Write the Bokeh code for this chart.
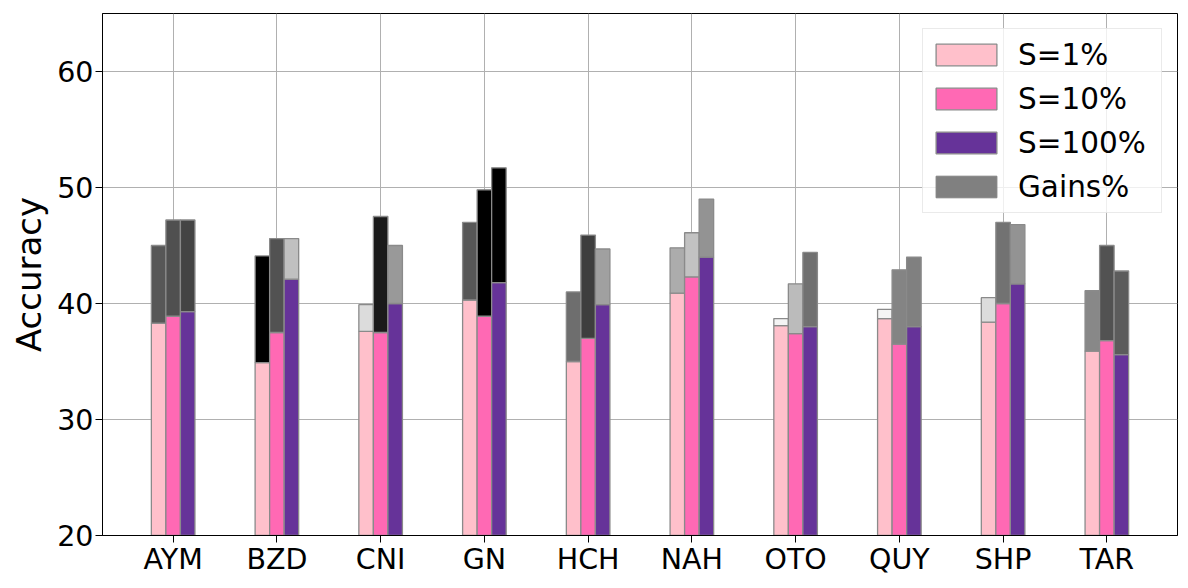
import numpy as np
from bokeh.plotting import figure
from bokeh.models import ColumnDataSource, FixedTicker, Legend, LegendItem, Range1d
from bokeh.embed import file_html
from bokeh.resources import INLINE

languages = ["AYM", "BZD", "CNI", "GN", "HCH", "NAH", "OTO", "QUY", "SHP", "TAR"]
series_labels = ["S=1%", "S=10%", "S=100%"]

# base accuracy per sampling size
acc_s1 = [38.3, 34.9, 37.6, 40.3, 35.0, 40.9, 38.1, 38.7, 38.4, 35.9]
acc_s10 = [38.9, 37.5, 37.5, 38.9, 37.0, 42.3, 37.4, 36.5, 40.0, 36.8]
acc_s100 = [39.3, 42.1, 40.0, 41.8, 39.9, 44.0, 38.0, 38.0, 41.7, 35.6]

# gains stacked on top of each bar
gain_s1 = [6.7, 9.2, 2.3, 6.7, 6.0, 3.9, 0.6, 0.8, 2.1, 5.2]
gain_s10 = [8.3, 8.1, 10.0, 10.9, 8.9, 3.8, 4.3, 6.4, 7.0, 8.2]
gain_s100 = [7.9, 3.5, 5.0, 9.9, 4.8, 5.0, 6.4, 6.0, 5.1, 7.2]

y_ticks = [20, 30, 40, 50, 60]

# grey shade of each gain segment (style)
shade_s1 = ["#575757", "#000000", "#dcdcdc", "#575757", "#6e6e6e", "#acacac", "#f4f4f4", "#f4f4f4", "#dcdcdc", "#888888"]
shade_s10 = ["#505050", "#525252", "#1a1a1a", "#000000", "#3e3e3e", "#c2c2c2", "#bbbbbb", "#848484", "#727272", "#525252"]
shade_s100 = ["#444444", "#c0c0c0", "#999999", "#000000", "#a0a0a0", "#939393", "#707070", "#808080", "#939393", "#5c5c5c"]
series_colors = ["#FFC0CB", "#FF69B4", "#663399"]

FONT = "DejaVu Sans"
EDGE = "#8a8a8a"
W = 0.14
offsets = [-W, 0.0, W]

p = figure(width=1188, height=588, output_backend="svg", toolbar_location=None,
           x_range=Range1d(-0.681, 9.681), y_range=Range1d(20, 65),
           min_border_left=102, min_border_right=11, min_border_top=13, min_border_bottom=53)
p.outline_line_color = "black"
p.outline_line_width = 1
p.background_fill_color = "white"

idx = np.arange(len(languages))
base_renderers = []
for accs, gains, shades, col, off in zip([acc_s1, acc_s10, acc_s100],
                                         [gain_s1, gain_s10, gain_s100],
                                         [shade_s1, shade_s10, shade_s100],
                                         series_colors, offsets):
    a = np.array(accs)
    g = np.array(gains)
    src = ColumnDataSource(dict(x=idx + off, acc=a, top=a + g, shade=shades))
    r = p.vbar(x="x", width=W, bottom=0, top="acc", source=src,
               fill_color=col, line_color=EDGE, line_width=1.3)
    p.vbar(x="x", width=W, bottom="acc", top="top", source=src,
           fill_color="shade", line_color=EDGE, line_width=1.3)
    base_renderers.append(r)

# legend-only proxy for the gains (zero height, below the visible range)
gain_proxy_src = ColumnDataSource(dict(x=[0.0], y=[0.0]))
gain_proxy = p.vbar(x="x", width=W, top="y", bottom="y", source=gain_proxy_src,
                    fill_color="#808080", line_color="#808080")

# axes
p.xaxis.ticker = FixedTicker(ticks=list(range(len(languages))))
p.xaxis.major_label_overrides = {i: lab for i, lab in enumerate(languages)}
p.yaxis.ticker = FixedTicker(ticks=y_ticks)
p.yaxis.axis_label = "Accuracy"
for ax in [p.xaxis[0], p.yaxis[0]]:
    ax.major_label_text_font = FONT
    ax.major_label_text_font_size = "28.5px"
    ax.major_label_text_color = "black"
    ax.axis_line_color = "black"
    ax.major_tick_line_color = "black"
    ax.major_tick_out = 7
    ax.major_tick_in = 0
    ax.minor_tick_out = 0
    ax.minor_tick_in = 0
p.xaxis.major_label_standoff = 0
p.yaxis.major_label_standoff = 2
p.yaxis.axis_label_text_font = FONT
p.yaxis.axis_label_text_font_size = "34px"
p.yaxis.axis_label_text_font_style = "normal"
p.yaxis.axis_label_text_color = "black"
p.yaxis.axis_label_standoff = 5

p.xgrid.grid_line_color = "#b0b0b0"
p.ygrid.grid_line_color = "#b0b0b0"
p.xgrid.grid_line_width = 1
p.ygrid.grid_line_width = 1

items = [LegendItem(label=lab, renderers=[r]) for lab, r in zip(series_labels, base_renderers)]
items.append(LegendItem(label="Gains%", renderers=[gain_proxy]))
legend = Legend(items=items, location="top_right")
legend.label_text_font = FONT
legend.label_text_font_size = "29.5px"
legend.label_text_color = "black"
legend.glyph_width = 76
legend.glyph_height = 27
legend.label_height = 41
legend.label_width = 138
legend.label_standoff = 14
legend.spacing = 3
legend.padding = 5
legend.margin = 15
legend.border_line_color = "#d6d6d6"
legend.border_line_width = 1
legend.background_fill_color = "white"
legend.background_fill_alpha = 0.8
p.add_layout(legend)

open("out.html", "w").write(file_html(p, INLINE))
